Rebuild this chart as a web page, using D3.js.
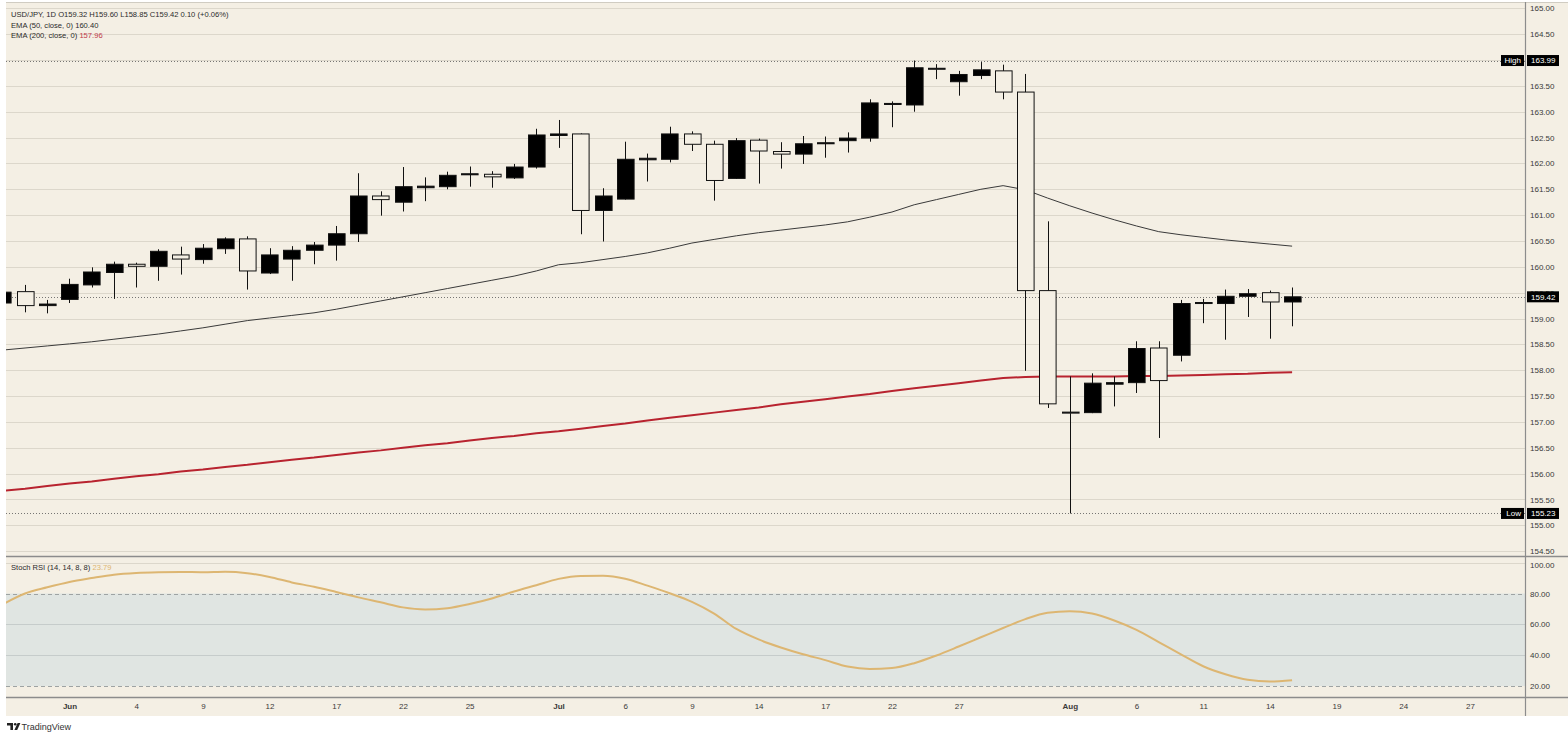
<!DOCTYPE html>
<html>
<head>
<meta charset="utf-8">
<script src="https://cdn.jsdelivr.net/npm/d3@7"></script>
<style>
  html, body { margin: 0; padding: 0; background: #fff; }
  svg { display: block; font-family: "Liberation Sans", Arial, sans-serif; }
</style>
</head>
<body>
<div id="chart"></div>
<script>
// daily candles (black = up, hollow = down)
let opens  = [159.30,159.52,159.25,159.37,159.65,159.89,160.05,160.01,160.23,160.14,160.35,160.54,159.88,160.15,160.32,160.42,160.64,161.37,161.25,161.53,
              161.55,161.78,161.79,161.72,161.93,162.54,162.57,161.09,161.31,162.07,162.08,162.57,162.37,161.71,162.45,162.23,162.18,162.38,162.44,162.49,
              163.14,163.13,163.84,163.58,163.70,163.79,163.38,159.54,157.19,157.18,157.73,157.76,158.43,158.29,159.29,159.29,159.43,159.50,159.32];
let highs  = [159.55,159.65,159.36,159.77,159.99,160.10,160.08,160.34,160.39,160.44,160.57,160.59,160.36,160.40,160.48,160.79,161.81,161.46,161.93,161.73,
              161.84,161.94,161.85,161.99,162.67,162.84,162.58,161.52,162.42,162.19,162.71,162.62,162.44,162.49,162.48,162.41,162.53,162.52,162.60,163.24,
              163.20,163.99,163.92,163.79,163.96,163.91,163.73,160.88,157.88,157.94,157.88,158.56,158.56,159.36,159.38,159.56,159.57,159.54,159.60];
let lows   = [159.25,159.12,159.10,159.30,159.60,159.38,159.60,159.73,159.85,160.06,160.25,159.56,159.86,159.73,160.05,160.12,160.48,160.99,161.07,161.27,
              161.50,161.55,161.53,161.70,161.90,162.30,160.63,160.49,161.30,161.65,162.02,162.24,161.28,161.70,161.61,161.90,161.99,162.11,162.21,162.42,
              162.70,163.00,163.63,163.31,163.63,163.24,157.99,157.27,155.23,157.17,157.30,157.56,156.69,158.17,158.91,158.59,159.03,158.61,158.85];
let closes = [159.51,159.25,159.28,159.66,159.90,160.05,160.01,160.30,160.15,160.36,160.54,159.92,160.23,160.32,160.42,160.64,161.37,161.30,161.55,161.56,
              161.77,161.80,161.74,161.93,162.55,162.57,161.09,161.37,162.08,162.10,162.57,162.37,161.67,162.44,162.24,162.18,162.38,162.40,162.49,163.17,
              163.16,163.85,163.82,163.72,163.81,163.38,159.54,157.35,157.17,157.75,157.76,158.42,157.80,159.29,159.31,159.43,159.48,159.32,159.42];

let ema50  = [158.39,158.43,158.47,158.51,158.55,158.60,158.65,158.70,158.76,158.82,158.89,158.96,159.01,159.06,159.11,159.18,159.26,159.34,159.42,159.50,
              159.58,159.66,159.74,159.82,159.92,160.04,160.08,160.14,160.20,160.27,160.36,160.46,160.53,160.60,160.66,160.71,160.76,160.81,160.87,160.96,
              161.06,161.20,161.30,161.40,161.50,161.57,161.49,161.33,161.18,161.04,160.91,160.79,160.68,160.62,160.57,160.52,160.48,160.44,160.40];
let ema200 = [155.67,155.71,155.76,155.81,155.85,155.90,155.95,155.99,156.04,156.08,156.13,156.17,156.22,156.27,156.31,156.36,156.41,156.45,156.50,156.55,
              156.59,156.64,156.69,156.73,156.78,156.82,156.87,156.92,156.97,157.03,157.08,157.13,157.18,157.23,157.28,157.34,157.39,157.44,157.49,157.54,
              157.60,157.65,157.70,157.75,157.80,157.85,157.87,157.88,157.88,157.88,157.88,157.89,157.89,157.90,157.91,157.92,157.93,157.95,157.96];
let stochK = [73.0,80.0,84.0,87.5,90.0,92.2,93.3,93.8,94.0,93.8,94.1,93.2,90.7,87.2,84.4,81.0,77.5,74.3,71.0,69.7,
              70.5,73.2,76.8,81.3,85.4,89.5,91.4,91.5,89.6,85.1,80.2,74.6,67.0,57.0,50.2,45.0,40.6,36.8,32.6,31.0,
              31.6,34.8,39.8,45.6,51.6,57.6,63.4,67.5,68.5,67.0,62.5,56.4,48.5,40.5,32.8,27.6,24.0,22.9,23.79];

// x-axis labels at bar slots (slots past the last bar are future dates)
let tickSlots  = [3, 6, 9, 12, 15, 18, 21, 25, 28, 31, 34, 37, 40, 43, 48, 51, 54, 57, 60, 63, 66];
let tickLabels = ["Jun","4","9","12","17","22","25","Jul","6","9","14","17","22","27","Aug","6","11","14","19","24","27"];
let priceTicks = [154.5,155,155.5,156,156.5,157,157.5,158,158.5,159,159.5,160,160.5,161,161.5,162,162.5,163,163.5,164,164.5,165];
let stochTicks = [20, 40, 60, 80, 100];

let svgWidth = 1568, svgHeight = 737;
let plotLeft = 6, plotRight = 1525;
let priceTop = 2, priceBottom = 556;
let stochTop = 557, stochBottom = 697, axisBottom = 716;

let bg = "#f4efe4";
let n = closes.length;

let svg = d3.select("#chart").append("svg")
    .attr("width", svgWidth)
    .attr("height", svgHeight);

svg.append("rect").attr("x", plotLeft).attr("y", priceTop)
    .attr("width", svgWidth - plotLeft).attr("height", axisBottom - priceTop)
    .attr("fill", bg);

let x = d3.scaleLinear().domain([0, n - 1]).range([2.8, 1292.1]);
let y = d3.scaleLinear().domain([154.5, 165]).range([551.2, 8.3]);
let ys = d3.scaleLinear().domain([20, 80]).range([686, 593.5]);

svg.append("clipPath").attr("id", "plotClip").append("rect")
    .attr("x", plotLeft).attr("y", priceTop)
    .attr("width", plotRight - plotLeft).attr("height", stochBottom - priceTop);

let plot = svg.append("g").attr("clip-path", "url(#plotClip)");

// price grid
plot.selectAll(".pgrid").data(priceTicks).join("line")
    .attr("x1", plotLeft).attr("x2", plotRight)
    .attr("y1", d => Math.round(y(d)) + 0.5).attr("y2", d => Math.round(y(d)) + 0.5)
    .attr("stroke", "#dcd7cb").attr("stroke-width", 1);

// stoch band + grid
plot.append("rect").attr("x", plotLeft).attr("width", plotRight - plotLeft)
    .attr("y", ys(80)).attr("height", ys(20) - ys(80))
    .attr("fill", "#e0e5e2");
plot.selectAll(".sgrid").data([40, 60, 100]).join("line")
    .attr("x1", plotLeft).attr("x2", plotRight)
    .attr("y1", d => Math.round(ys(d)) + 0.5).attr("y2", d => Math.round(ys(d)) + 0.5)
    .attr("stroke", d => d === 100 ? "#dcd7cb" : "#c6cccb");
plot.selectAll(".sdash").data([20, 80]).join("line")
    .attr("x1", plotLeft).attr("x2", plotRight)
    .attr("y1", d => Math.round(ys(d)) + 0.5).attr("y2", d => Math.round(ys(d)) + 0.5)
    .attr("stroke", "#9ea3a3").attr("stroke-dasharray", "4,3");

// high / low / last dotted lines
let hiVal = d3.max(highs), loVal = d3.min(lows), lastVal = closes[n - 1];
plot.selectAll(".dots").data([hiVal, loVal, lastVal]).join("line")
    .attr("x1", plotLeft).attr("x2", plotRight)
    .attr("y1", d => Math.round(y(d)) + 0.5).attr("y2", d => Math.round(y(d)) + 0.5)
    .attr("stroke", "#555").attr("stroke-width", 0.8).attr("stroke-dasharray", "1,2");

// EMA lines
let line = d3.line().x((d, i) => x(i)).y(d => y(d));
plot.append("path").datum(ema200).attr("d", line)
    .attr("fill", "none").attr("stroke", "#b8232f").attr("stroke-width", 2);
plot.append("path").datum(ema50).attr("d", line)
    .attr("fill", "none").attr("stroke", "#3a3a3a").attr("stroke-width", 1);

// candles
let bw = 16.6;
let candles = plot.selectAll(".candle").data(d3.range(n)).join("g");
candles.append("line")
    .attr("x1", i => Math.round(x(i)) + 0.5).attr("x2", i => Math.round(x(i)) + 0.5)
    .attr("y1", i => y(highs[i])).attr("y2", i => y(lows[i]))
    .attr("stroke", "#111").attr("stroke-width", 1);
candles.append("rect")
    .attr("x", i => Math.round(x(i) - bw / 2) + 0.5)
    .attr("width", bw)
    .attr("y", i => y(Math.max(opens[i], closes[i])))
    .attr("height", i => Math.max(1, Math.abs(y(opens[i]) - y(closes[i]))))
    .attr("fill", i => closes[i] >= opens[i] ? "#000" : bg)
    .attr("stroke", "#111").attr("stroke-width", 1);

// stoch RSI line
let sline = d3.line().x((d, i) => x(i)).y(d => ys(d)).curve(d3.curveMonotoneX);
plot.append("path").datum(stochK).attr("d", sline)
    .attr("fill", "none").attr("stroke", "#ddb672").attr("stroke-width", 2);

// pane separators and axis lines
svg.append("line").attr("x1", plotLeft).attr("x2", svgWidth).attr("y1", priceTop + 0.5).attr("y2", priceTop + 0.5)
    .attr("stroke", "#d0ccc2");
svg.append("line").attr("x1", plotLeft).attr("x2", svgWidth).attr("y1", 556.5).attr("y2", 556.5)
    .attr("stroke", "#8c8c8c").attr("stroke-width", 1.3);
svg.append("line").attr("x1", plotLeft).attr("x2", svgWidth).attr("y1", stochBottom + 0.5).attr("y2", stochBottom + 0.5)
    .attr("stroke", "#8c8c8c").attr("stroke-width", 1.3);
svg.append("line").attr("x1", plotRight + 0.5).attr("x2", plotRight + 0.5).attr("y1", priceTop).attr("y2", axisBottom)
    .attr("stroke", "#8c8c8c").attr("stroke-width", 1.2);

// price axis (the 159.50 label sits under the last-price tag, as on the reference)
let fmt = d3.format(".2f");
let priceAxis = svg.append("g").attr("transform", `translate(${plotRight + 2},0)`)
    .call(d3.axisRight(y).tickValues(priceTicks).tickFormat(fmt).tickSize(0).tickPadding(3));
priceAxis.select(".domain").remove();
priceAxis.selectAll("text").attr("font-size", 8).attr("fill", "#3a3a3a").attr("font-family", "Liberation Sans, Arial, sans-serif");

let stochAxis = svg.append("g").attr("transform", `translate(${plotRight + 2},0)`)
    .call(d3.axisRight(ys).tickValues(stochTicks).tickFormat(fmt).tickSize(0).tickPadding(3));
stochAxis.select(".domain").remove();
stochAxis.selectAll("text").attr("font-size", 8).attr("fill", "#3a3a3a").attr("font-family", "Liberation Sans, Arial, sans-serif")
    .attr("dy", d => d === 100 ? "0.6em" : "0.32em");

// black labels on the price scale
function tag(xp, yp, w, label, anchor) {
    svg.append("rect").attr("x", xp).attr("y", yp - 5.5).attr("width", w).attr("height", 11).attr("fill", "#000");
    svg.append("text").attr("x", anchor === "end" ? xp + w - 3 : xp + 4).attr("y", yp)
        .attr("dy", "0.35em").attr("text-anchor", anchor === "end" ? "end" : "start")
        .attr("font-size", 8).attr("fill", "#fff").text(label);
}
tag(plotRight + 2, y(hiVal), 32, fmt(hiVal));
tag(plotRight - 24, y(hiVal), 23, "High", "end");
tag(plotRight + 2, y(loVal), 32, fmt(loVal));
tag(plotRight - 24, y(loVal), 23, "Low", "end");
tag(plotRight + 2, y(lastVal), 32, fmt(lastVal));

// time axis
let timeAxis = svg.append("g").attr("transform", `translate(0,${stochBottom + 1})`)
    .call(d3.axisBottom(x).tickValues(tickSlots).tickFormat((d, i) => tickLabels[i]).tickSize(0).tickPadding(5));
timeAxis.select(".domain").remove();
timeAxis.selectAll("text").attr("font-size", 8).attr("fill", "#3a3a3a")
    .attr("font-family", "Liberation Sans, Arial, sans-serif")
    .attr("font-weight", (d, i) => isNaN(+tickLabels[i]) ? "bold" : "normal");

// legend
let last = n - 1;
let chg = closes[last] - opens[last];
let legend = [
    [["USD/JPY, 1D O" + fmt(opens[last]) + " H" + fmt(highs[last]) + " L" + fmt(lows[last]) + " C" + fmt(closes[last]) +
      " " + fmt(chg) + " (+" + fmt(chg / opens[last] * 100) + "%)", "#2a2a2a"]],
    [["EMA (50, close, 0) ", "#2a2a2a"], [fmt(ema50[last]), "#2a2a2a"]],
    [["EMA (200, close, 0) ", "#2a2a2a"], [fmt(ema200[last]), "#c0394a"]]
];
legend.forEach(function (parts, row) {
    let t = svg.append("text").attr("x", 11).attr("y", 17 + row * 10.5)
        .attr("font-size", 7.6).attr("xml:space", "preserve");
    parts.forEach(p => t.append("tspan").attr("fill", p[1]).text(p[0]));
});
let st = svg.append("text").attr("x", 11).attr("y", 570).attr("font-size", 7.6).attr("xml:space", "preserve");
st.append("tspan").attr("fill", "#2a2a2a").text("Stoch RSI (14, 14, 8, 8) ");
st.append("tspan").attr("fill", "#ddb672").text(fmt(stochK[last]));

// TradingView mark
let logo = svg.append("g").attr("fill", "#222");
logo.append("path").attr("d", "M7,723 h6 v7 h-2.6 v-4.4 h-3.4 z");
logo.append("circle").attr("cx", 15.2).attr("cy", 724.3).attr("r", 1.3);
logo.append("path").attr("d", "M17.6,723 h2.8 l-3.2,7 h-2.8 z");
svg.append("text").attr("x", 21.5).attr("y", 730).attr("font-size", 9).attr("fill", "#333")
    .attr("font-family", "Liberation Sans, Arial, sans-serif").text("TradingView");
</script>
</body>
</html>
